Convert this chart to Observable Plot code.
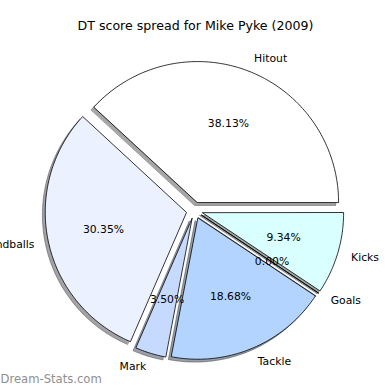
<!DOCTYPE html>
<html><head><meta charset="utf-8">
<script src="https://cdn.jsdelivr.net/npm/d3@7"></script>
<script src="https://cdn.jsdelivr.net/npm/@observablehq/plot@0.6"></script>
<style>body{margin:0;background:#fff}</style>
</head><body><div id="chart"></div>
<script>
const labels = ["Hitout", "Handballs", "Mark", "Tackle", "Goals", "Kicks"];
const percents = [38.13, 30.35, 3.50, 18.68, 0.00, 9.34];
const colors = ["#ffffff", "#ebf1ff", "#c6d9ff", "#b3d4ff", "#e0e0ff", "#d9ffff"];
const title = "DT score spread for Mike Pyke (2009)";
const watermark = "Dream-Stats.com";

const explode = 0.06, labelDist = 1.1, pctDist = 0.6, shadowOff = 0.02;

let start = 0;
const slices = labels.map((label, i) => {
  const a0 = start, a1 = start + percents[i] / 100 * 2 * Math.PI;
  start = a1;
  const am = (a0 + a1) / 2;
  const cx = explode * Math.cos(am), cy = explode * Math.sin(am);
  const n = Math.max(2, Math.ceil((a1 - a0) / (Math.PI / 180)));
  const pts = [{x: cx, y: cy}];
  for (let k = 0; k <= n; k++) {
    const a = a0 + (a1 - a0) * k / n;
    pts.push({x: cx + Math.cos(a), y: cy + Math.sin(a)});
  }
  const c = d3.rgb(colors[i]);
  const sh = d3.rgb(c.r * 0.3, c.g * 0.3, c.b * 0.3);
  return {label, pct: percents[i], color: colors[i], shadow: sh.formatHex(), pts, am, cx, cy};
});

const labelData = slices.map(s => ({
  text: s.label,
  x: s.cx + labelDist * Math.cos(s.am),
  y: s.cy + labelDist * Math.sin(s.am)
}));
const pctData = slices.map(s => ({
  text: s.pct.toFixed(2) + "%",
  x: s.cx + pctDist * Math.cos(s.am),
  y: s.cy + pctDist * Math.sin(s.am)
}));

const font = "DejaVu Sans, sans-serif";
const marks = [];
for (const s of slices) {
  marks.push(Plot.line(s.pts, {
    x: d => d.x - shadowOff, y: d => d.y - shadowOff, curve: "linear-closed",
    fill: s.shadow, stroke: s.shadow, fillOpacity: 0.5, strokeOpacity: 0.5, strokeWidth: 1
  }));
}
for (const s of slices) {
  marks.push(Plot.line(s.pts, {
    x: "x", y: "y", curve: "linear-closed",
    fill: s.color, stroke: "#000", strokeWidth: 0.8, strokeLinejoin: "miter"
  }));
}
marks.push(Plot.text(labelData.filter(d => d.x > 0), {x: "x", y: "y", text: "text", textAnchor: "start", fontSize: 10.8, fill: "#000"}));
marks.push(Plot.text(labelData.filter(d => d.x <= 0), {x: "x", y: "y", text: "text", textAnchor: "end", fontSize: 10.8, fill: "#000"}));
marks.push(Plot.text(pctData, {x: "x", y: "y", text: "text", textAnchor: "middle", fontSize: 10.8, fill: "#000"}));
marks.push(Plot.text([title], {frameAnchor: "top", dy: 25, lineAnchor: "middle", fontSize: 12.6, fill: "#000"}));
marks.push(Plot.text([watermark], {frameAnchor: "bottom-left", dx: 0, dy: -11, textAnchor: "start", lineAnchor: "middle", fontSize: 11.6, fill: "#8f8f8f"}));

const chart = Plot.plot({
  width: 390, height: 390, margin: 0,
  style: {fontFamily: font, background: "#fff", overflow: "hidden"},
  x: {domain: [-1.376, 1.390], axis: null},
  y: {domain: [-1.277, 1.489], axis: null},
  marks
});
document.getElementById("chart").appendChild(chart);
</script>
</body></html>
